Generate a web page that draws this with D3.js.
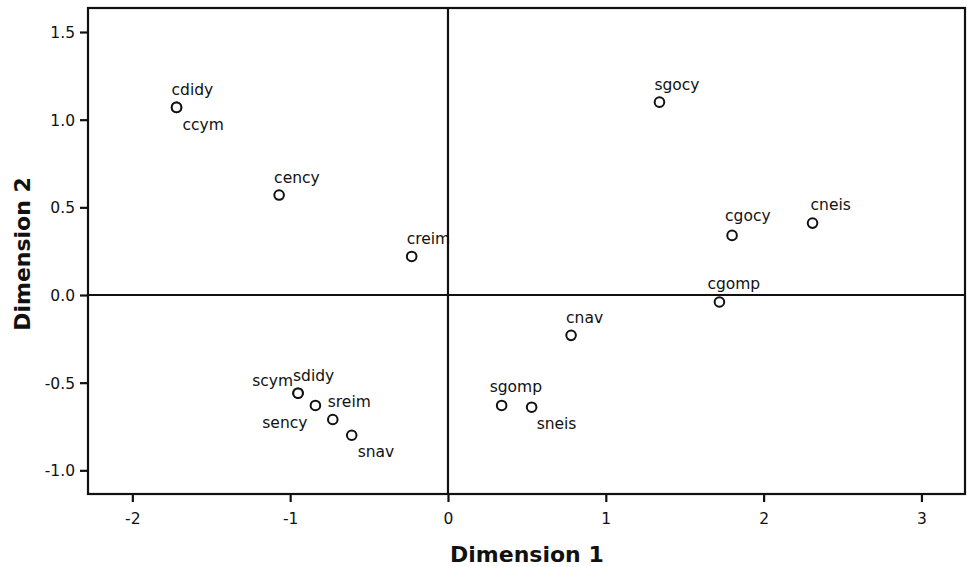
<!DOCTYPE html>
<html>
<head>
<meta charset="utf-8">
<script src="https://cdn.jsdelivr.net/npm/d3@7"></script>
<style>
  html, body { margin: 0; padding: 0; background: #fff; }
  svg { display: block; }
  text { font-family: "DejaVu Sans", sans-serif; fill: #111; }
</style>
</head>
<body>
<svg id="chart" width="967" height="567"></svg>
<script>
// Object points in the two-dimensional solution
const labels = ["cdidy", "ccym", "cency", "creim", "sgocy", "cgocy", "cneis", "cgomp",
                "cnav", "sgomp", "sneis", "sdidy", "scym", "sency", "sreim", "snav"];
const dim1 = [-1.72, -1.72, -1.07, -0.23, 1.34, 1.80, 2.31, 1.72,
              0.78, 0.34, 0.53, -0.95, -0.95, -0.84, -0.73, -0.61];
const dim2 = [1.07, 1.07, 0.57, 0.22, 1.10, 0.34, 0.41, -0.04,
              -0.23, -0.63, -0.64, -0.56, -0.56, -0.63, -0.71, -0.80];

const xTicks = [-2, -1, 0, 1, 2, 3];
const yTicks = [-1.0, -0.5, 0.0, 0.5, 1.0, 1.5];

// Label placement relative to each point: [dx, dy, anchor]
const labelPlacement = {
  default: [-5, -12, "start"],
  ccym:  [6, 23, "start"],
  sneis: [5, 22, "start"],
  snav:  [6, 22, "start"],
  cgomp: [-12, -13, "start"],
  sgomp: [-12, -13, "start"],
  cgocy: [-7, -14, "start"],
  cneis: [-2, -13, "start"],
  scym:  [-5, -7, "end"],
  sency: [-8, 23, "end"]
};

const frame = { left: 88, right: 965, top: 8, bottom: 494 };

const x = d3.scaleLinear().domain([-2.281, 3.276]).range([frame.left, frame.right]);
const y = d3.scaleLinear().domain([-1.135, 1.637]).range([frame.bottom, frame.top]);

const svg = d3.select("#chart");
const ink = "#111";

// Plot frame
svg.append("rect")
  .attr("x", frame.left).attr("y", frame.top)
  .attr("width", frame.right - frame.left).attr("height", frame.bottom - frame.top)
  .attr("fill", "none").attr("stroke", ink).attr("stroke-width", 2.2);

// Axes (plain hyphen for negative tick labels)
const xAxis = svg.append("g")
  .attr("transform", `translate(0,${frame.bottom})`)
  .call(d3.axisBottom(x).tickValues(xTicks).tickFormat(d => String(d)).tickSize(8).tickPadding(11));
const yAxis = svg.append("g")
  .attr("transform", `translate(${frame.left},0)`)
  .call(d3.axisLeft(y).tickValues(yTicks).tickFormat(d => d.toFixed(1)).tickSize(8).tickPadding(5));

[xAxis, yAxis].forEach(g => {
  g.select(".domain").remove();
  g.selectAll(".tick line").attr("stroke", ink).attr("stroke-width", 2.2);
  g.selectAll(".tick text")
    .attr("fill", ink)
    .style("font-family", "'DejaVu Sans', sans-serif")
    .style("font-size", "15.5px");
});
yAxis.selectAll(".tick text").attr("dy", "0.36em");

// Reference lines through the origin
svg.append("line")
  .attr("x1", x(0)).attr("x2", x(0))
  .attr("y1", frame.top).attr("y2", frame.bottom)
  .attr("stroke", ink).attr("stroke-width", 2.2);
svg.append("line")
  .attr("x1", frame.left).attr("x2", frame.right)
  .attr("y1", y(0)).attr("y2", y(0))
  .attr("stroke", ink).attr("stroke-width", 2.2);

// Points
const pts = labels.map((name, i) => ({ name, d1: dim1[i], d2: dim2[i] }));

svg.append("g").selectAll("circle")
  .data(pts)
  .join("circle")
  .attr("cx", d => x(d.d1))
  .attr("cy", d => y(d.d2))
  .attr("r", 4.8)
  .attr("fill", "#fff")
  .attr("stroke", ink)
  .attr("stroke-width", 2);

svg.append("g").selectAll("text")
  .data(pts)
  .join("text")
  .each(function (d) {
    const p = labelPlacement[d.name] || labelPlacement.default;
    d3.select(this)
      .attr("x", x(d.d1) + p[0])
      .attr("y", y(d.d2) + p[1])
      .attr("text-anchor", p[2]);
  })
  .style("font-size", "15.5px")
  .text(d => d.name);

// Axis titles
svg.append("text")
  .attr("x", (x(0) + x(1)) / 2)
  .attr("y", 562)
  .attr("text-anchor", "middle")
  .style("font-size", "22px")
  .style("font-weight", "bold")
  .text("Dimension 1");

svg.append("text")
  .attr("transform", "translate(30,254) rotate(-90)")
  .attr("text-anchor", "middle")
  .style("font-size", "22px")
  .style("font-weight", "bold")
  .text("Dimension 2");
</script>
</body>
</html>
